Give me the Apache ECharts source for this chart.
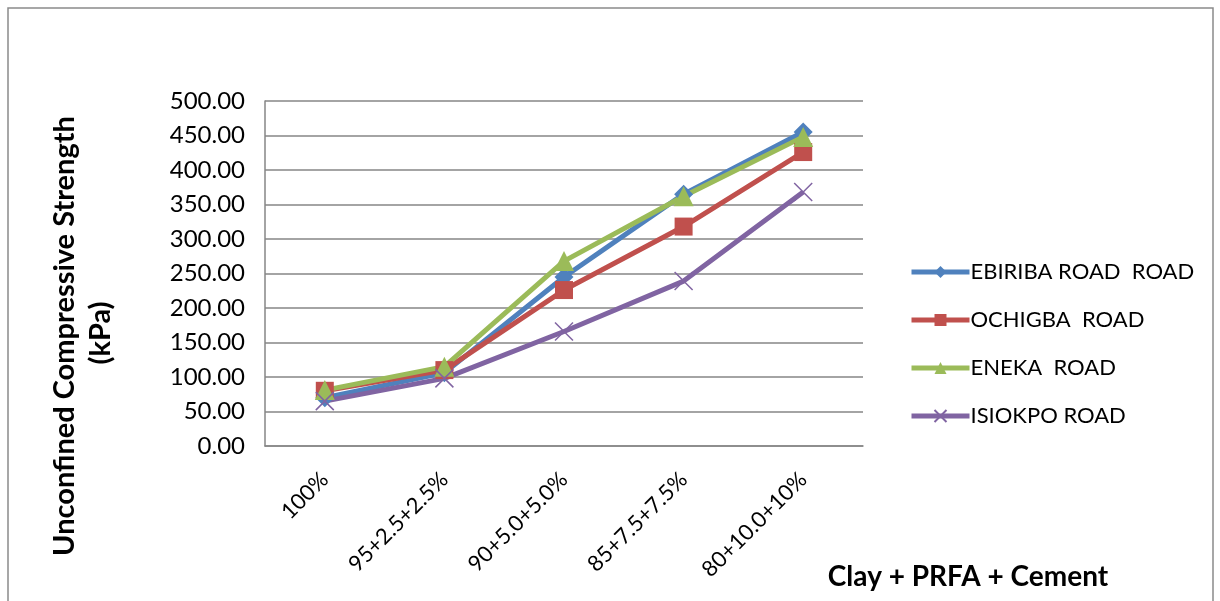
<!DOCTYPE html>
<html>
<head>
<meta charset="utf-8">
<script src="https://cdn.jsdelivr.net/npm/echarts@6/dist/echarts.min.js"></script>
<style>
  html, body { margin: 0; padding: 0; background: #ffffff; }
  #chart { width: 1220px; height: 601px; }
</style>
</head>
<body>
<div id="chart"></div>
<script>
// Mix proportions (Clay + PRFA + Cement)
const categories = ['100%', '95+2.5+2.5%', '90+5.0+5.0%', '85+7.5+7.5%', '80+10.0+10%'];

// Unconfined compressive strength (kPa) for each road
const ebiribaRoad = [70, 106, 245, 365, 455];
const ochigbaRoad = [80, 110, 226, 318, 426];
const enekaRoad   = [81, 115, 268, 362, 448];
const isiokpoRoad = [65, 98, 166, 239, 368];

const seriesNames = ['EBIRIBA ROAD  ROAD', 'OCHIGBA  ROAD', 'ENEKA  ROAD', 'ISIOKPO ROAD'];
const seriesColors = ['#4F81BD', '#C0504D', '#9BBB59', '#8064A2'];

const yTicks = { min: 0, max: 500, interval: 50 };

const FONT = 'Lato, "Open Sans", sans-serif';
const chart = echarts.init(document.getElementById('chart'), null, { renderer: 'canvas' });

function lineSeries(name, data, color, symbol, size, extra) {
  return Object.assign({
    name: name,
    type: 'line',
    data: data,
    symbol: symbol,
    symbolSize: size,
    showAllSymbol: true,
    lineStyle: { color: color, width: 5 },
    itemStyle: { color: color },
    emphasis: { disabled: true },
    animation: false,
    z: 3
  }, extra || {});
}

const option = {
  backgroundColor: '#ffffff',
  animation: false,
  color: seriesColors,
  grid: { left: 265, top: 101, width: 598, height: 345, containLabel: false },
  xAxis: {
    type: 'category',
    data: categories,
    boundaryGap: true,
    axisLine: { show: true, lineStyle: { color: '#868686', width: 1.5 } },
    axisTick: { show: false },
    splitLine: { show: false },
    axisLabel: {
      rotate: 45,
      interval: 0,
      margin: 30,
      color: '#000000',
      fontFamily: FONT,
      fontSize: 22
    }
  },
  yAxis: {
    type: 'value',
    min: yTicks.min,
    max: yTicks.max,
    interval: yTicks.interval,
    axisLine: { show: true, lineStyle: { color: '#868686', width: 1.5 } },
    axisTick: { show: false },
    splitLine: { show: true, lineStyle: { color: '#868686', width: 1.5 } },
    axisLabel: {
      margin: 20,
      color: '#000000',
      fontFamily: FONT,
      fontSize: 24,
      formatter: function (v) { return v.toFixed(2); }
    }
  },
  legend: {
    orient: 'vertical',
    left: 904,
    top: 255,
    itemWidth: 58,
    itemHeight: 15,
    itemGap: 24,
    selectedMode: false,
    data: seriesNames,
    lineStyle: { width: 5 },
    textStyle: { color: '#000000', fontFamily: FONT, fontSize: 22, lineHeight: 24, padding: [0, 0, 0, -4] }
  },
  graphic: [
    {
      type: 'rect',
      shape: { x: 8, y: 8, width: 1205, height: 640 },
      style: { fill: 'none', stroke: '#8a8a8a', lineWidth: 1.5 },
      silent: true,
      z: -1
    },
    {
      type: 'text',
      x: 65, y: 336,
      rotation: Math.PI / 2,
      style: {
        text: 'Unconfined Compressive Strength',
        fill: '#000000',
        font: 'bold 29px ' + FONT,
        align: 'center',
        verticalAlign: 'middle'
      }
    },
    {
      type: 'text',
      x: 101, y: 333,
      rotation: Math.PI / 2,
      style: {
        text: '(kPa)',
        fill: '#000000',
        font: 'bold 29px ' + FONT,
        align: 'center',
        verticalAlign: 'middle'
      }
    },
    {
      type: 'text',
      x: 968, y: 577,
      style: {
        text: 'Clay + PRFA + Cement',
        fill: '#000000',
        font: 'bold 28px ' + FONT,
        align: 'center',
        verticalAlign: 'middle'
      }
    }
  ],
  series: [
    lineSeries(seriesNames[0], ebiribaRoad, seriesColors[0], 'diamond', 19),
    lineSeries(seriesNames[1], ochigbaRoad, seriesColors[1], 'rect', 18),
    lineSeries(seriesNames[2], enekaRoad, seriesColors[2], 'triangle', 20),
    lineSeries(seriesNames[3], isiokpoRoad, seriesColors[3], 'path://M0,0L16,16M16,0L0,16', 18, {
      itemStyle: { color: seriesColors[3], borderColor: seriesColors[3], borderWidth: 1.5 }
    })
  ]
};

chart.setOption(option);
</script>
</body>
</html>
